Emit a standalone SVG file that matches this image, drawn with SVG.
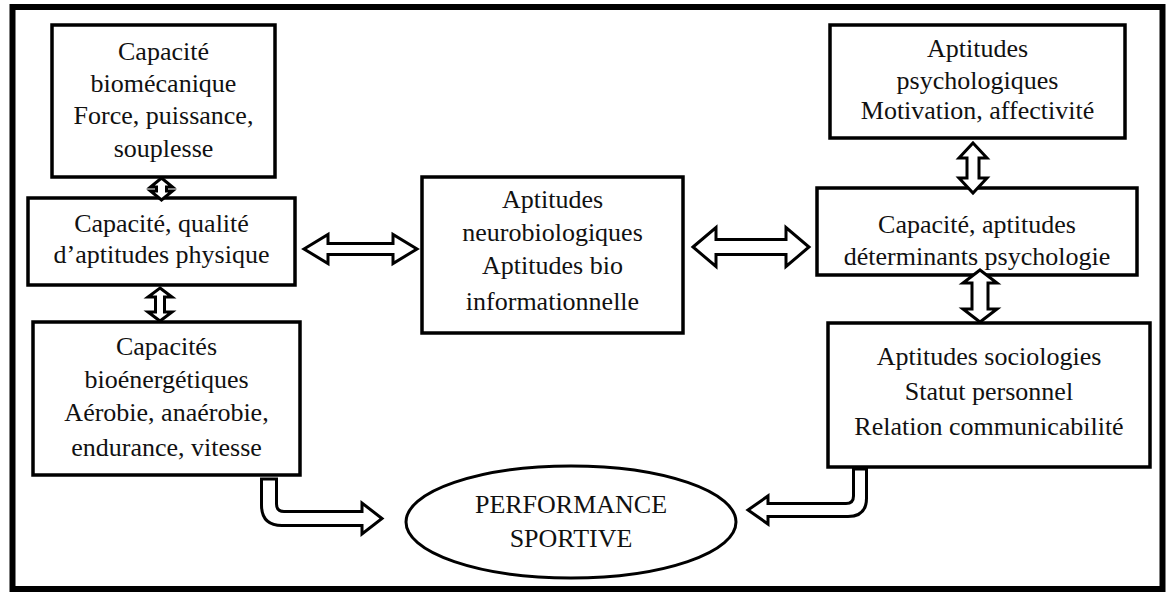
<svg xmlns="http://www.w3.org/2000/svg" width="1167" height="593" viewBox="0 0 1167 593">
<style>
.box{fill:#fff;stroke:#000;stroke-width:3.5}
.t{font-size:26px;fill:#111;text-anchor:middle}
.arr{fill:#fff;stroke:#000;stroke-width:3;stroke-linejoin:miter}
</style>
<rect x="0" y="0" width="1167" height="593" fill="#fff"/>
<rect x="12.5" y="7" width="1150" height="582" fill="none" stroke="#000" stroke-width="6"/>
<g font-family="Liberation Serif, Tinos, Times New Roman, Times, Noto Serif, DejaVu Serif, FreeSerif, serif">
<g id="n1">
<rect class="box" x="52" y="25" width="223" height="152"/>
<text class="t" x="163.5" y="60">Capacité</text>
<text class="t" x="163.5" y="92">biomécanique</text>
<text class="t" x="163.5" y="124">Force, puissance,</text>
<text class="t" x="163.5" y="157">souplesse</text>
</g>
<g id="n2">
<rect class="box" x="28" y="198" width="267" height="87"/>
<text class="t" x="161.5" y="232">Capacité, qualité</text>
<text class="t" x="161.5" y="263">d’aptitudes physique</text>
</g>
<g id="n3">
<rect class="box" x="33" y="322" width="267" height="153"/>
<text class="t" x="166.5" y="355">Capacités</text>
<text class="t" x="166.5" y="388">bioénergétiques</text>
<text class="t" x="166.5" y="421">Aérobie, anaérobie,</text>
<text class="t" x="166.5" y="456">endurance, vitesse</text>
</g>
<g id="n4">
<rect class="box" x="422" y="177" width="261" height="156"/>
<text class="t" x="552.5" y="208">Aptitudes</text>
<text class="t" x="552.5" y="241">neurobiologiques</text>
<text class="t" x="552.5" y="274">Aptitudes bio</text>
<text class="t" x="552.5" y="310">informationnelle</text>
</g>
<g id="n5">
<rect class="box" x="830" y="25" width="295" height="113"/>
<text class="t" x="977.5" y="57">Aptitudes</text>
<text class="t" x="977.5" y="89">psychologiques</text>
<text class="t" x="977.5" y="119">Motivation, affectivité</text>
</g>
<g id="n6">
<rect class="box" x="817" y="188" width="320" height="87"/>
<text class="t" x="977" y="233">Capacité, aptitudes</text>
<text class="t" x="977" y="265">déterminants psychologie</text>
</g>
<g id="n7">
<rect class="box" x="828" y="323" width="322" height="144"/>
<text class="t" x="989" y="365">Aptitudes sociologies</text>
<text class="t" x="989" y="400">Statut personnel</text>
<text class="t" x="989" y="435">Relation communicabilité</text>
</g>
<g id="n8">
<ellipse cx="571" cy="522" rx="165" ry="56" fill="#fff" stroke="#000" stroke-width="3"/>
<text class="t" x="571" y="513">PERFORMANCE</text>
<text class="t" x="571" y="547">SPORTIVE</text>
</g>
</g>
<g id="connectors">
<path class="arr" d="M304,249 L328,234.5 V243.5 H393 V234.5 L417,249 L393,263.5 V254.5 H328 V263.5 Z"/>
<path class="arr" d="M693,247 L716,227.5 V239.5 H786 V227.5 L809,247 L786,266.5 V254.5 H716 V266.5 Z"/>
<path class="arr" d="M161.5,178 L172.5,187 H166.5 V191 H172.5 L161.5,200 L150.5,191 H156.5 V187 H150.5 Z"/>
<path class="arr" d="M160,288 L172,297 H164.5 V312 H172 L160,321 L148,312 H155.5 V297 H148 Z"/>
<path class="arr" d="M973,143 L987,158 H979 V178 H987 L973,193 L959,178 H967 V158 H959 Z"/>
<path class="arr" d="M980,270 L997,283 H988 V309 H997 L980,322 L963,309 H972 V283 H963 Z"/>
<path class="arr" d="M261.5,479 V505 Q261.5,525.5 282,525.5 H362 V534 L382,518.5 L362,503 V511.5 H284 Q276.5,511.5 276.5,504 V479 Z"/>
<path class="arr" d="M866.5,469 V498 Q866.5,516.5 848,516.5 H768 V524 L748,510 L768,496 V503.5 H846 Q853.5,503.5 853.5,496 V469 Z"/>
</g>
</svg>
